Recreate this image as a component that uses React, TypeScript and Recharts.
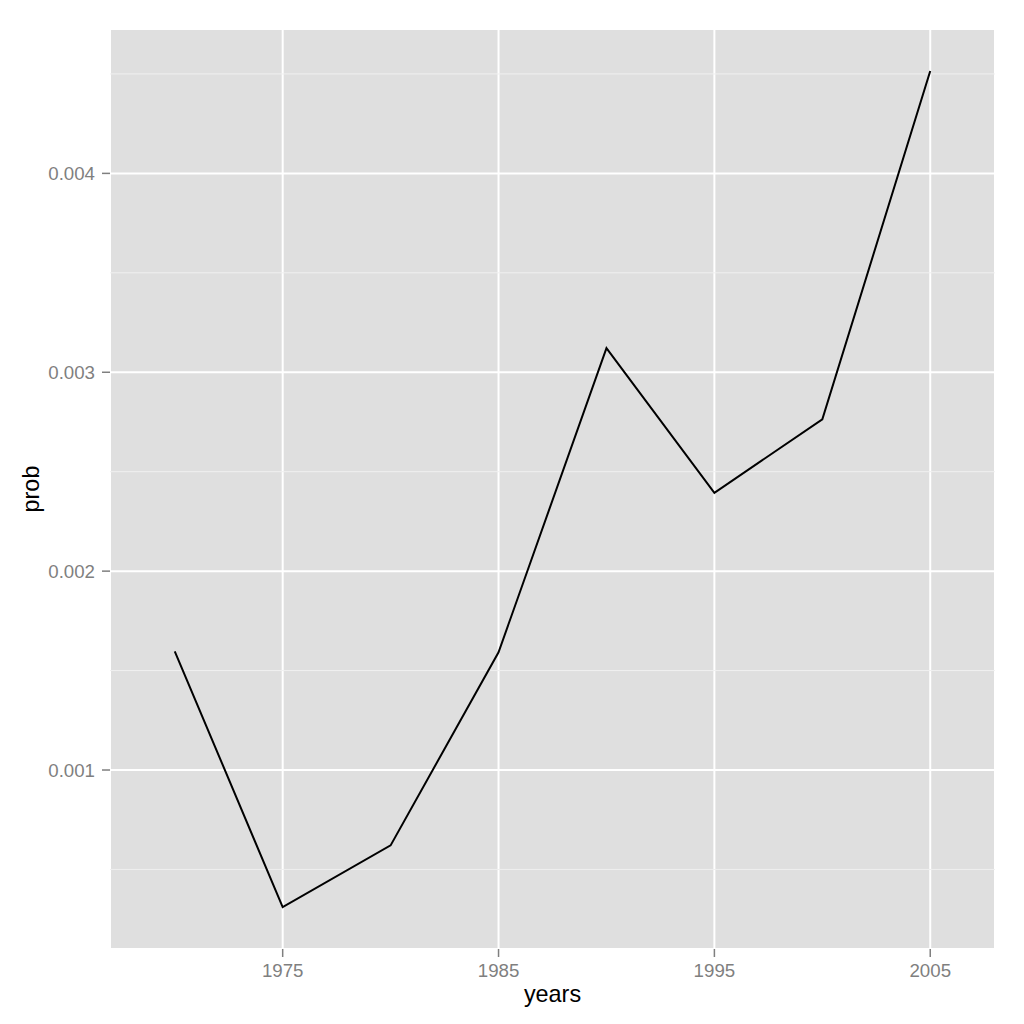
import { LineChart, Line, XAxis, YAxis, CartesianGrid, ReferenceLine, Label } from 'recharts';

// values
const years = [1970, 1975, 1980, 1985, 1990, 1995, 2000, 2005];
const probs = [0.001597, 0.000311, 0.000621, 0.001592, 0.003121, 0.002394, 0.002763, 0.004515];

const xTicks = [1975, 1985, 1995, 2005];
const yTicks = [0.001, 0.002, 0.003, 0.004];
const yMinor = [0.0005, 0.0015, 0.0025, 0.0035, 0.0045];

const data = years.map((year, i) => ({ year, prob: probs[i] }));

const FONT = '"Liberation Sans", Arial, Helvetica, sans-serif';
const TICK_GREY = '#7F7F7F';

const tickStyle = { fill: TICK_GREY, fontSize: 18.7, fontFamily: FONT };

export default function App() {
  return (
    <div style={{ position: 'absolute', left: 0, top: 0, width: 1024, height: 1024, background: '#fff' }}>
      <LineChart
        width={1024}
        height={1024}
        data={data}
        margin={{ top: 29, right: 29, bottom: 0, left: 0 }}
      >
        <CartesianGrid fill="#DFDFDF" stroke="#FFFFFF" strokeWidth={2} />
        {yMinor.map(v => (
          <ReferenceLine key={v} y={v} stroke="#F0F0F0" strokeWidth={1} />
        ))}
        <XAxis
          dataKey="year"
          type="number"
          domain={[1967, 2008]}
          ticks={xTicks}
          allowDataOverflow
          axisLine={false}
          tickLine={{ stroke: TICK_GREY, strokeWidth: 1.5 }}
          tickSize={8}
          tickMargin={7}
          tick={tickStyle}
          height={75}
        >
          <Label
            content={(props: any) => {
              const vb = props.viewBox;
              return (
                <text
                  x={vb.x + vb.width / 2}
                  y={vb.y + 53}
                  textAnchor="middle"
                  fontSize={23.4}
                  fontFamily={FONT}
                  fill="#000"
                >
                  years
                </text>
              );
            }}
          />
        </XAxis>
        <YAxis
          type="number"
          domain={[0.0001, 0.004726]}
          ticks={yTicks}
          allowDataOverflow
          axisLine={false}
          tickLine={{ stroke: TICK_GREY, strokeWidth: 1.5 }}
          tickSize={8}
          tickMargin={7}
          tick={tickStyle}
          tickFormatter={(v: number) => v.toFixed(3)}
          width={110}
        >
          <Label
            content={(props: any) => {
              const vb = props.viewBox;
              const cx = vb.x + 39.3;
              const cy = vb.y + vb.height / 2;
              return (
                <text
                  x={cx}
                  y={cy}
                  transform={`rotate(-90 ${cx} ${cy})`}
                  textAnchor="middle"
                  fontSize={23.4}
                  fontFamily={FONT}
                  fill="#000"
                >
                  prob
                </text>
              );
            }}
          />
        </YAxis>
        <Line
          type="linear"
          dataKey="prob"
          stroke="#000"
          strokeWidth={2}
          dot={false}
          isAnimationActive={false}
        />
      </LineChart>
    </div>
  );
}
